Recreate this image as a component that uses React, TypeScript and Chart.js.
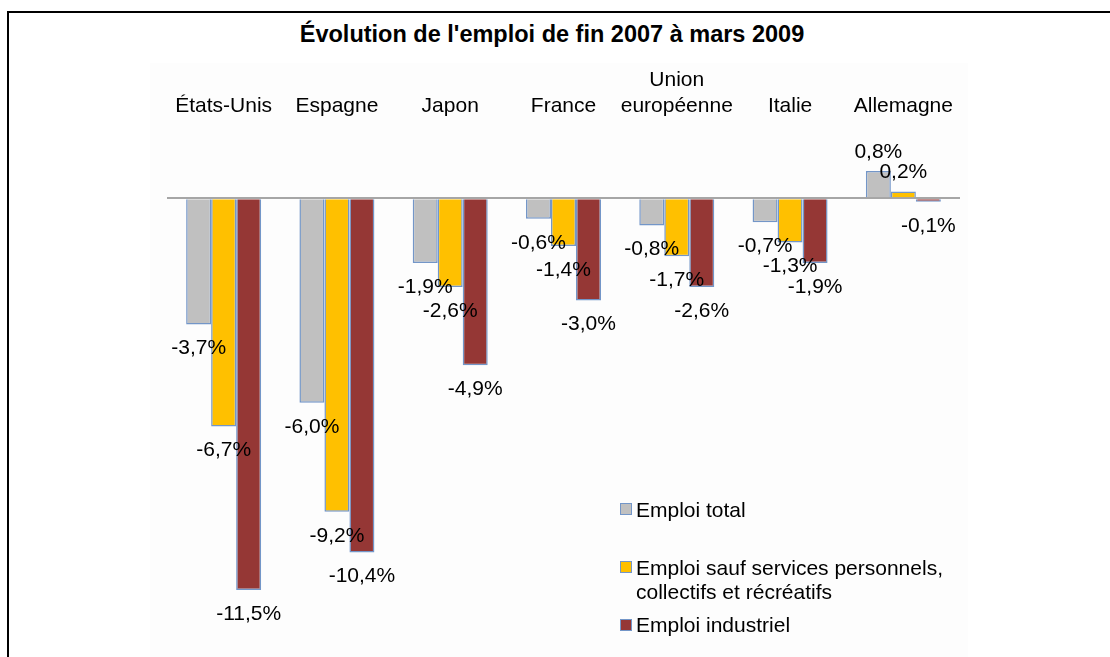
import React, { useEffect, useRef } from 'react';
import { Chart, registerables } from 'chart.js';

Chart.register(...registerables);

const FONT = '"Liberation Sans", Arial, Helvetica, sans-serif';

const categories: (string | string[])[] = ['États-Unis', 'Espagne', 'Japon', 'France', ['Union', 'européenne'], 'Italie', 'Allemagne'];
const emploiTotal = [-3.7, -6.0, -1.9, -0.6, -0.8, -0.7, 0.8];
const emploiSaufServices = [-6.7, -9.2, -2.6, -1.4, -1.7, -1.3, 0.2];
const emploiIndustriel = [-11.5, -10.4, -4.9, -3.0, -2.6, -1.9, -0.1];

const seriesNames = ['Emploi total', 'Emploi sauf services personnels, collectifs et récréatifs', 'Emploi industriel'];
const seriesColors = ['#c0c0c0', '#ffc000', '#953735'];
const borderColor = '#7396c8';
const titleText = "Évolution de l'emploi de fin 2007 à mars 2009";

const fmt = (v: number) => v.toFixed(1).replace('.', ',') + '%';

export default function App() {
  const ref = useRef<HTMLCanvasElement>(null);

  useEffect(() => {
    if (!ref.current) return;
    const valueLabels = {
      id: 'valueLabels',
      afterDatasetsDraw(chart: any) {
        const ctx = chart.ctx;
        ctx.save();
        ctx.font = `21px ${FONT}`;
        ctx.fillStyle = '#000';
        ctx.textAlign = 'center';
        ctx.textBaseline = 'middle';
        chart.data.datasets.forEach((ds: any, di: number) => {
          const meta = chart.getDatasetMeta(di);
          meta.data.forEach((el: any, i: number) => {
            const v = ds.data[i] as number;
            const y = v < 0 ? el.y + 24 : el.y - 19;
            ctx.fillText(fmt(v), el.x, y);
          });
        });
        ctx.restore();
      },
    };

    const datasets = [emploiTotal, emploiSaufServices, emploiIndustriel].map((d, i) => ({
      label: seriesNames[i],
      data: d,
      backgroundColor: seriesColors[i],
      borderColor: borderColor,
      borderWidth: 1.5,
      categoryPercentage: 0.662,
      barPercentage: 1,
    }));

    const chart = new Chart(ref.current, {
      type: 'bar',
      data: { labels: categories as any, datasets },
      options: {
        animation: false,
        responsive: false,
        layout: { padding: { top: 63, left: 167, right: 150, bottom: 2.2 } },
        plugins: {
          legend: { display: false },
          tooltip: { enabled: false },
          title: { display: false },
        },
        scales: {
          x: {
            position: 'top',
            grid: { display: false, drawTicks: false },
            border: { display: false },
            ticks: {
              font: { family: FONT, size: 21 },
              color: '#000',
              padding: 5,
              maxRotation: 0,
              autoSkip: false,
            },
          },
          y: {
            min: -13.4,
            max: 2.2,
            grid: {
              color: (c: any) => (c.tick && c.tick.value === 0 ? '#a6a6a6' : 'rgba(0,0,0,0)'),
              lineWidth: 2,
              drawTicks: false,
            },
            border: { display: false },
            ticks: { display: false, stepSize: 1 },
          },
        },
      },
      plugins: [valueLabels],
    } as any);
    return () => chart.destroy();
  }, []);

  const legendBox = (color: string, top: number) => (
    <div
      style={{
        position: 'absolute',
        left: 620,
        top,
        width: 10,
        height: 10,
        background: color,
        border: `1.5px solid ${borderColor}`,
      }}
    />
  );
  const legendText: React.CSSProperties = {
    position: 'absolute',
    left: 636,
    fontFamily: FONT,
    fontSize: 21,
    lineHeight: '24px',
    color: '#000',
    whiteSpace: 'nowrap',
  };

  return (
    <div style={{ position: 'fixed', left: 0, top: 0, width: 1110, height: 657, overflow: 'hidden', background: '#fff' }}>
      <div style={{ position: 'absolute', left: 7, top: 11, width: 1300, height: 900, borderLeft: '2px solid #000', borderTop: '2px solid #000' }} />
      <div style={{ position: 'absolute', left: 150, top: 63, width: 818, height: 700, background: '#fdfdfd' }} />
      <div
        style={{
          position: 'absolute',
          left: 0,
          top: 21,
          width: 1104,
          textAlign: 'center',
          fontFamily: FONT,
          fontWeight: 'bold',
          fontSize: 23.5,
          lineHeight: '27px',
          color: '#000',
        }}
      >
        {titleText}
      </div>
      <canvas ref={ref} width={1110} height={657} style={{ position: 'absolute', left: 0, top: 0 }} />
      {legendBox(seriesColors[0], 503)}
      <div style={{ ...legendText, top: 498 }}>{seriesNames[0]}</div>
      {legendBox(seriesColors[1], 561)}
      <div style={{ ...legendText, top: 556 }}>
        Emploi sauf services personnels,
        <br />
        collectifs et récréatifs
      </div>
      {legendBox(seriesColors[2], 619)}
      <div style={{ ...legendText, top: 613 }}>{seriesNames[2]}</div>
    </div>
  );
}
